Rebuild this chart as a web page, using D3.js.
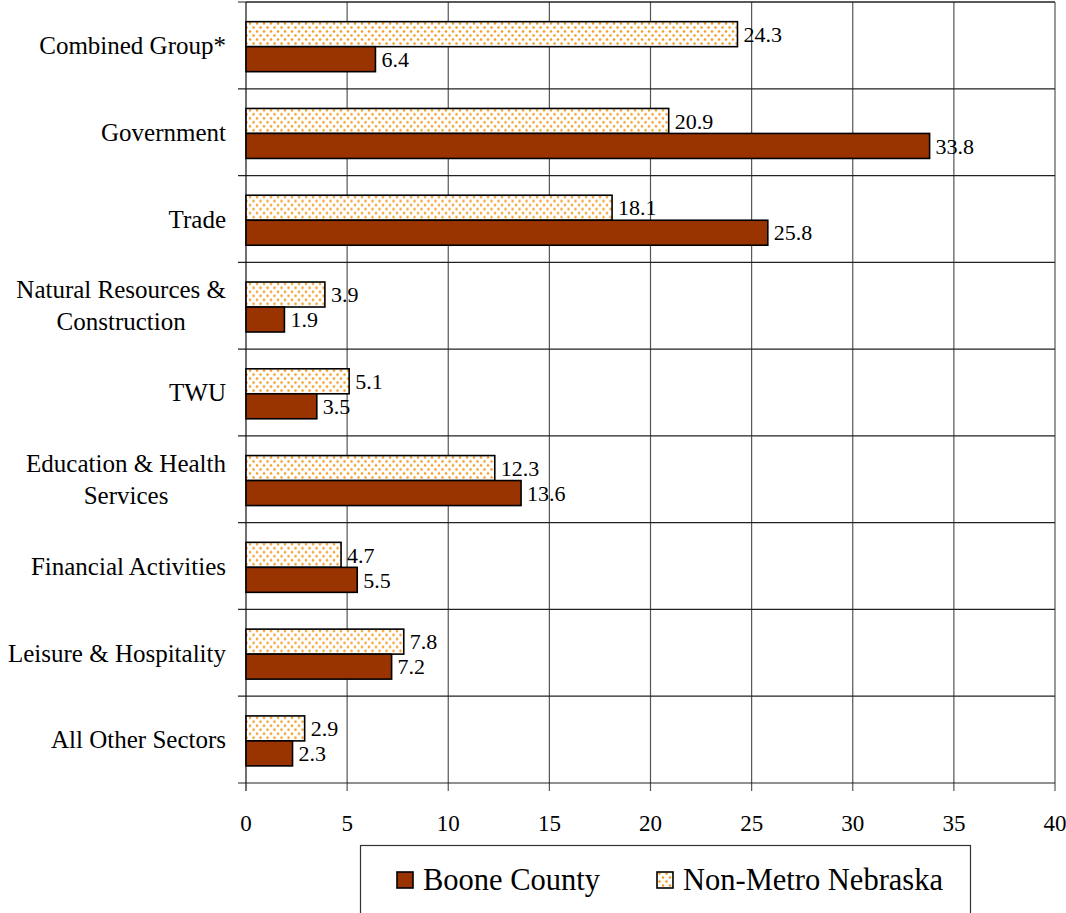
<!DOCTYPE html>
<html><head><meta charset="utf-8">
<script src="https://cdn.jsdelivr.net/npm/d3@7"></script>
<style>body{margin:0;background:#fff}svg{display:block}text{font-family:"Liberation Serif","Times New Roman",serif;fill:#000}</style>
</head><body><svg id="c" width="1066" height="913"></svg>
<script>
const categories = ["Combined Group*", "Government", "Trade", "Natural Resources &\nConstruction", "TWU", "Education & Health\nServices", "Financial Activities", "Leisure & Hospitality", "All Other Sectors"];
const booneCounty = [6.4, 33.8, 25.8, 1.9, 3.5, 13.6, 5.5, 7.2, 2.3];
const nonMetroNebraska = [24.3, 20.9, 18.1, 3.9, 5.1, 12.3, 4.7, 7.8, 2.9];
const xTicks = [0, 5, 10, 15, 20, 25, 30, 35, 40];
const seriesNames = ["Non-Metro Nebraska", "Boone County"];
const legendNames = ["Boone County", "Non-Metro Nebraska"];

const svg = d3.select("#c");
const L = 246, R = 1055, T = 2, B = 783;
const x = d3.scaleLinear().domain([0, 40]).range([L, R]);
const y = d3.scaleBand().domain(categories).range([T, B]).paddingInner(0).paddingOuter(0);
const sub = d3.scaleBand().domain(seriesNames).range([0, y.bandwidth()]).paddingInner(0).paddingOuter(0.736).align(0.535);

const defs = svg.append("defs");
const pat = defs.append("pattern").attr("id", "dots").attr("patternUnits", "userSpaceOnUse").attr("width", 7).attr("height", 8);
pat.append("rect").attr("width", 7).attr("height", 8).attr("fill", "#fff");
[[1.5,1.5],[5,5.5]].forEach(([cx,cy]) => pat.append("circle").attr("cx", cx).attr("cy", cy).attr("r", 1.25).attr("fill", "#f59a20"));

// vertical gridlines
svg.append("g").selectAll("line").data(xTicks.slice(1)).join("line")
  .attr("x1", d => x(d)).attr("x2", d => x(d)).attr("y1", T).attr("y2", B + 8)
  .attr("stroke", "#555").attr("stroke-width", 1.2);
// top frame
svg.append("line").attr("x1", L).attr("x2", R).attr("y1", T).attr("y2", T).attr("stroke", "#222").attr("stroke-width", 1.2);
// horizontal category lines
const bounds = categories.map(c => y(c)).concat([B]);
svg.append("g").selectAll("line").data(bounds).join("line")
  .attr("x1", L - 8).attr("x2", R).attr("y1", d => d).attr("y2", d => d)
  .attr("stroke", "#222").attr("stroke-width", 1.2);
// left axis
svg.append("line").attr("x1", L).attr("x2", L).attr("y1", T).attr("y2", B + 8).attr("stroke", "#111").attr("stroke-width", 1.2);

// bars
const rows = categories.map((c, i) => ({c, vals: [{s: seriesNames[0], v: nonMetroNebraska[i]}, {s: seriesNames[1], v: booneCounty[i]}]}));
const g = svg.append("g").selectAll("g").data(rows).join("g").attr("transform", d => `translate(0,${y(d.c)})`);
g.selectAll("rect").data(d => d.vals).join("rect")
  .attr("x", L).attr("y", d => sub(d.s)).attr("width", d => x(d.v) - L).attr("height", sub.bandwidth())
  .attr("fill", d => d.s === "Boone County" ? "#993300" : "url(#dots)")
  .attr("stroke", "#000").attr("stroke-width", 1.6);
g.selectAll("text").data(d => d.vals).join("text")
  .attr("x", d => x(d.v) + 6).attr("y", d => sub(d.s) + sub.bandwidth() / 2).attr("dy", "0.35em")
  .attr("font-size", 22).text(d => d.v.toFixed(1));

// category labels
categories.forEach(c => {
  const lines = c.split("\n");
  const cy = y(c) + y.bandwidth() / 2;
  const tg = svg.append("g");
  const ts = lines.map((ln, j) => tg.append("text").attr("font-size", 25).attr("y", cy + (j - (lines.length - 1) / 2) * 32).attr("dy", "0.35em").text(ln));
  const w = d3.max(ts, t => t.node().getComputedTextLength());
  ts.forEach(t => t.attr("text-anchor", "middle").attr("x", 226 - w / 2));
});

// x tick labels
svg.append("g").selectAll("text").data(xTicks).join("text")
  .attr("x", d => x(d)).attr("y", 831).attr("text-anchor", "middle").attr("font-size", 23).text(d => d);

// legend
svg.append("rect").attr("x", 360.5).attr("y", 845.5).attr("width", 610).attr("height", 80).attr("fill", "#fff").attr("stroke", "#333").attr("stroke-width", 1.2);
const lx = [397, 657];
legendNames.forEach((n, i) => {
  svg.append("rect").attr("x", lx[i]).attr("y", 872).attr("width", 16).attr("height", 16)
    .attr("fill", n === "Boone County" ? "#993300" : "url(#dots)").attr("stroke", "#000").attr("stroke-width", 1.6);
  svg.append("text").attr("x", lx[i] + 26).attr("y", 890).attr("font-size", 30.5).text(n);
});
</script></body></html>
